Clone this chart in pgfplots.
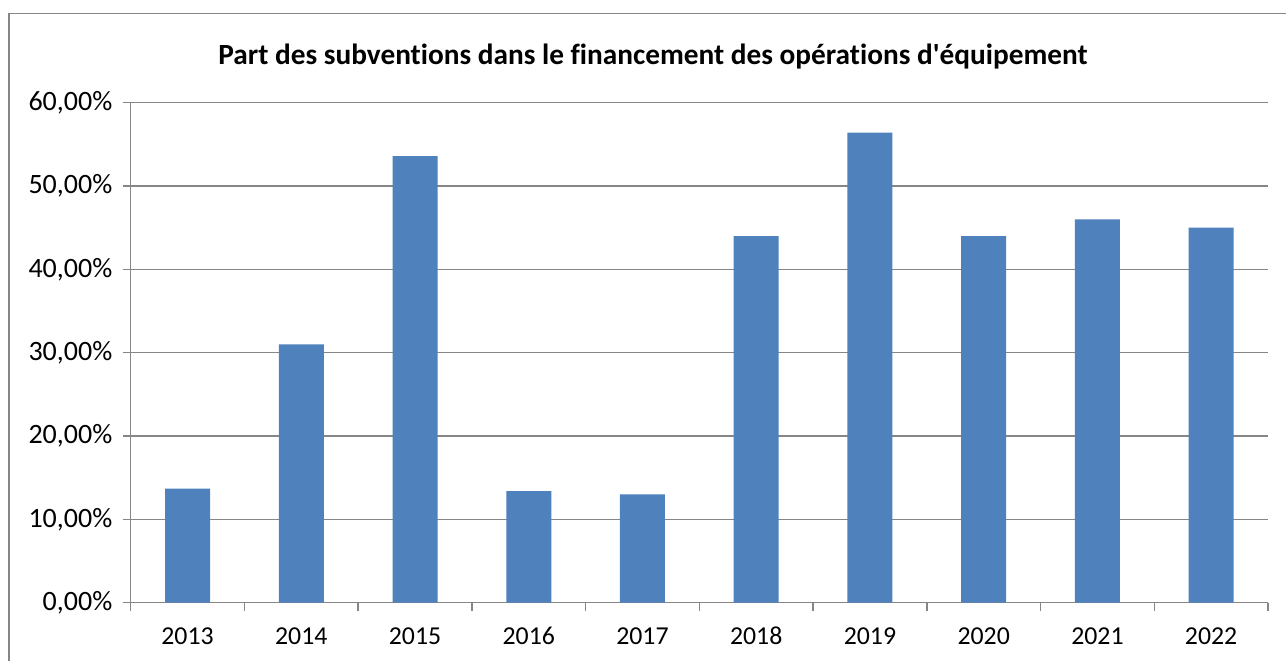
\documentclass[border=0pt]{standalone}
\usepackage{fontspec}
\setmainfont{Carlito}[Ligatures={NoCommon}]
\usepackage{pgfplots}
\pgfplotsset{compat=1.18}
\definecolor{barblue}{RGB}{79,129,189}
\definecolor{gridgray}{RGB}{134,134,134}
\begin{document}
\begin{tikzpicture}
\useasboundingbox (0,0) rectangle (643pt,330pt);
\fill[white] (0,0) rectangle (643pt,330pt);
\draw[gridgray, line width=0.65pt] (4.5pt,-10pt) -- (4.5pt,323.35pt) -- (650pt,323.35pt);
\node[font=\bfseries\fontsize{14.65}{17}\selectfont, anchor=base] at (326.5pt,297.5pt) {Part des subventions dans le financement des opérations d\textquotesingle équipement};
\begin{axis}[
  at={(65.35pt,28.65pt)}, anchor=south west,
  scale only axis, width=568.65pt, height=250pt,
  xmin=-0.5, xmax=9.5, ymin=0, ymax=60,
  axis x line=bottom, axis y line=left,
  axis line style={-, draw=gridgray, line width=0.75pt},
  ytick={0,10,20,30,40,50,60},
  yticklabels={{0,00\%},{10,00\%},{20,00\%},{30,00\%},{40,00\%},{50,00\%},{60,00\%}},
  xtick={-0.5,0.5,1.5,2.5,3.5,4.5,5.5,6.5,7.5,8.5,9.5},
  x tick label as interval=true,
  xticklabels={2013,2014,2015,2016,2017,2018,2019,2020,2021,2022},
  tick align=outside,
  major tick length=4pt,
  tick style={draw=gridgray, line width=0.75pt},
  ymajorgrids=true,
  grid style={draw=gridgray, line width=0.75pt},
  tick label style={font=\fontsize{12.9}{15}\selectfont, inner sep=0pt},
  yticklabel style={font=\fontsize{14}{16}\selectfont, anchor=east, xshift=-5pt},
  xticklabel style={anchor=base, yshift=-17pt},
  ybar, bar width=22.5pt,
]
\addplot[fill=barblue, draw=none] coordinates {
  (0,13.7) (1,31.0) (2,53.6) (3,13.4) (4,13.0)
  (5,44.0) (6,56.4) (7,44.0) (8,46.0) (9,45.0)
};
\end{axis}
\end{tikzpicture}
\end{document}
